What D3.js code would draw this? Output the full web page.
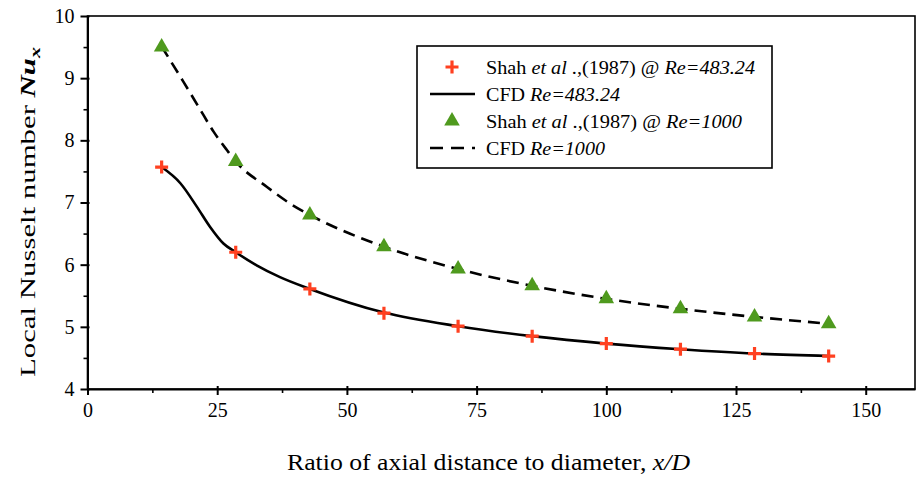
<!DOCTYPE html>
<html>
<head>
<meta charset="utf-8">
<script src="https://cdn.jsdelivr.net/npm/d3@7"></script>
<style>
  body { margin: 0; background: #fff; }
  svg { display: block; font-family: "Liberation Serif", "DejaVu Serif", serif; }
</style>
</head>
<body>
<div id="chart"></div>
<script>
// Shah et al. (1987) reference points, x/D positions
const xD = [14.29, 28.57, 42.86, 57.14, 71.43, 85.71, 100, 114.29, 128.57, 142.86];
const shahRe483 = [7.57, 6.20, 5.61, 5.22, 5.01, 4.85, 4.73, 4.64, 4.57, 4.53];
const shahRe1000 = [9.50, 7.66, 6.80, 6.29, 5.93, 5.66, 5.45, 5.29, 5.16, 5.05];

// CFD curves
const cfdRe483X = [14.29, 17.9, 21.1, 23.6, 26.2, 28.57, 32.6, 37.1, 42.86, 57.14, 71.43, 85.71, 100, 114.29, 128.57, 142.86];
const cfdRe483Y = [7.57, 7.31, 6.93, 6.61, 6.34, 6.20, 5.99, 5.80, 5.61, 5.23, 5.01, 4.85, 4.73, 4.64, 4.57, 4.53];
const cfdRe1000X = [14.29, 18.5, 21.4, 24.3, 26.9, 28.57, 34.6, 39.1, 42.86, 57.14, 71.43, 85.71, 100, 114.29, 128.57, 142.86];
const cfdRe1000Y = [9.51, 8.94, 8.54, 8.14, 7.84, 7.66, 7.25, 6.98, 6.80, 6.29, 5.93, 5.66, 5.45, 5.29, 5.16, 5.05];

const xTicks = [0, 25, 50, 75, 100, 125, 150];
const yTicks = [4, 5, 6, 7, 8, 9, 10];

const width = 917, height = 477;
const margin = { left: 87.5, right: 2, top: 16, bottom: 88 };

const RED = "#ff4020";
const GREEN = "#4f9a1e";
const FONT = "Liberation Serif";

const svg = d3.select("#chart").append("svg")
  .attr("width", width)
  .attr("height", height);

const x = d3.scaleLinear().domain([0, 159.5]).range([margin.left, width - margin.right]);
const y = d3.scaleLinear().domain([4, 10]).range([height - margin.bottom, margin.top]);

// Frame
svg.append("rect")
  .attr("x", x(0)).attr("y", y(10))
  .attr("width", x(159.5) - x(0)).attr("height", y(4) - y(10))
  .attr("fill", "none").attr("stroke", "#000").attr("stroke-width", 1.6);

// Minor ticks
const xMinor = svg.append("g")
  .attr("transform", `translate(0,${y(4)})`)
  .call(d3.axisBottom(x).tickValues(d3.range(12.5, 159, 25)).tickSize(4).tickFormat(""));
xMinor.select(".domain").remove();
xMinor.selectAll("line").attr("stroke-width", 1.6);

const yMinor = svg.append("g")
  .attr("transform", `translate(${x(0)},0)`)
  .call(d3.axisLeft(y).tickValues(d3.range(4.5, 10, 1)).tickSize(4).tickFormat(""));
yMinor.select(".domain").remove();
yMinor.selectAll("line").attr("stroke-width", 1.6);

// Major axes
const xAxis = svg.append("g")
  .attr("transform", `translate(0,${y(4)})`)
  .attr("font-family", FONT)
  .attr("font-size", 20)
  .call(d3.axisBottom(x).tickValues(xTicks).tickSize(6).tickPadding(8).tickSizeOuter(0).tickFormat(d3.format("d")));
xAxis.attr("font-family", FONT).attr("font-size", 20);
xAxis.select(".domain").attr("stroke-width", 2);
xAxis.selectAll(".tick line").attr("y1", -3).attr("stroke-width", 2);
xAxis.selectAll(".tick text").attr("fill", "#000");

const yAxis = svg.append("g")
  .attr("transform", `translate(${x(0)},0)`)
  .call(d3.axisLeft(y).tickValues(yTicks).tickSize(7).tickPadding(6).tickSizeOuter(0).tickFormat(d3.format("d")));
yAxis.attr("font-family", FONT).attr("font-size", 20);
yAxis.select(".domain").attr("stroke-width", 2);
yAxis.selectAll(".tick line").attr("x1", 2).attr("stroke-width", 2);
yAxis.selectAll(".tick text").attr("fill", "#000");

// CFD lines
const line = d3.line()
  .x(d => x(d[0]))
  .y(d => y(d[1]))
  .curve(d3.curveMonotoneX);

svg.append("path")
  .datum(cfdRe483X.map((v, i) => [v, cfdRe483Y[i]]))
  .attr("d", line)
  .attr("fill", "none")
  .attr("stroke", "#000")
  .attr("stroke-width", 2.6);

svg.append("path")
  .datum(cfdRe1000X.map((v, i) => [v, cfdRe1000Y[i]]))
  .attr("d", line)
  .attr("fill", "none")
  .attr("stroke", "#000")
  .attr("stroke-width", 2.6)
  .attr("stroke-dasharray", "12,7");

// Markers
const plusPath = "M-6.5,0H6.5M0,-6.5V6.5";
const triangle = d3.symbol().type(d3.symbolTriangle).size(105);

svg.append("g").selectAll("path")
  .data(xD.map((v, i) => [v, shahRe483[i]]))
  .enter().append("path")
  .attr("transform", d => `translate(${x(d[0])},${y(d[1])})`)
  .attr("d", plusPath)
  .attr("stroke", RED)
  .attr("stroke-width", 3.2);

svg.append("g").selectAll("path")
  .data(xD.map((v, i) => [v, shahRe1000[i]]))
  .enter().append("path")
  .attr("transform", d => `translate(${x(d[0])},${y(d[1])})`)
  .attr("d", triangle)
  .attr("fill", GREEN);

// Axis titles (the source type is set a little wide, so stretch to its length)
const xTitle = svg.append("text")
  .attr("x", 488.5)
  .attr("y", 470)
  .attr("text-anchor", "middle")
  .attr("font-size", 22.5)
  .attr("textLength", 403)
  .attr("lengthAdjust", "spacingAndGlyphs");
xTitle.append("tspan").text("Ratio of axial distance to diameter, ");
xTitle.append("tspan").attr("font-style", "italic").text("x/D");

const yTitle = svg.append("text")
  .attr("transform", "translate(35,212) rotate(-90)")
  .attr("text-anchor", "middle")
  .attr("font-size", 21)
  .attr("textLength", 330)
  .attr("lengthAdjust", "spacingAndGlyphs");
yTitle.append("tspan").text("Local Nusselt number ");
yTitle.append("tspan").attr("font-style", "italic").attr("font-weight", "bold").text("Nu");
yTitle.append("tspan").attr("font-style", "italic").attr("font-weight", "bold")
  .attr("font-size", 15).attr("dy", 5).text("x");

// Legend
const legend = svg.append("g");
legend.append("rect")
  .attr("x", 417).attr("y", 46)
  .attr("width", 355).attr("height", 122)
  .attr("fill", "#fff").attr("stroke", "#000").attr("stroke-width", 1.6);

const legendRows = [
  { kind: "plus", len: 269, label: ["Shah ", "et al", " .,(1987) @ ", "Re=483.24"] },
  { kind: "solid", len: 134, label: ["CFD ", "Re=483.24"] },
  { kind: "tri", len: 256, label: ["Shah ", "et al", " .,(1987) @ ", "Re=1000"] },
  { kind: "dash", len: 119, label: ["CFD ", "Re=1000"] }
];

legendRows.forEach((row, i) => {
  const cy = 67 + i * 27;
  if (row.kind === "plus") {
    legend.append("path").attr("transform", `translate(452,${cy})`)
      .attr("d", plusPath).attr("stroke", RED).attr("stroke-width", 3.2);
  } else if (row.kind === "tri") {
    legend.append("path").attr("transform", `translate(452,${cy})`)
      .attr("d", triangle).attr("fill", GREEN);
  } else {
    legend.append("line")
      .attr("x1", 430).attr("x2", 475).attr("y1", cy).attr("y2", cy)
      .attr("stroke", "#000").attr("stroke-width", 2.6)
      .attr("stroke-dasharray", row.kind === "dash" ? "13,8" : null);
  }
  const t = legend.append("text")
    .attr("x", 486).attr("y", cy + 7)
    .attr("font-size", 19.5)
    .attr("textLength", row.len)
    .attr("lengthAdjust", "spacingAndGlyphs");
  row.label.forEach((s, j) => {
    t.append("tspan").attr("font-style", j % 2 === 1 ? "italic" : "normal").text(s);
  });
});
</script>
</body>
</html>
